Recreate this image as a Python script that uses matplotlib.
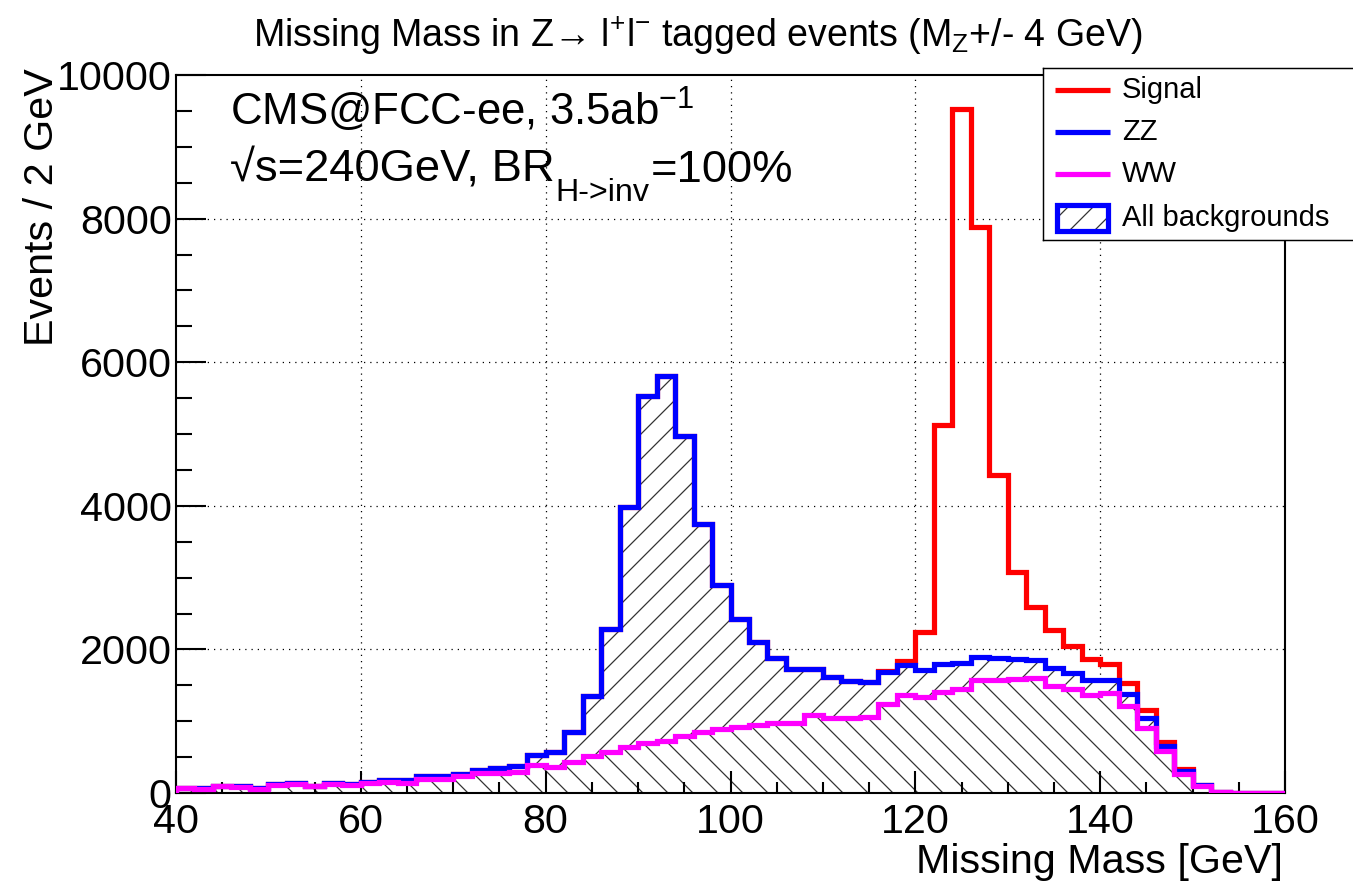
import numpy as np
import matplotlib
matplotlib.use("Agg")
import matplotlib.pyplot as plt
from matplotlib.patches import Rectangle
from matplotlib.ticker import MultipleLocator

# ---------------- data (events per 2 GeV bin, 40..160 GeV) ----------------
bin_edges = list(range(40, 162, 2))

ww = [65, 60, 92, 85, 58, 112, 125, 95, 128, 118,
      144, 150, 140, 199, 190, 231, 278, 284, 296, 385,
      368, 432, 515, 571, 636, 701, 719, 794, 850, 896,
      919, 951, 974, 974, 1090, 1049, 1045, 1060, 1240, 1370,
      1336, 1406, 1452, 1573, 1573, 1592, 1600, 1490, 1443, 1360,
      1397, 1211, 910, 585, 260, 97, 8, 5, 3, 2]

zz = [11, 8, 10, 9, 7, 10, 11, 9, 10, 14,
      16, 35, 36, 37, 41, 33, 41, 63, 74, 145,
      202, 418, 830, 1719, 3341, 4827, 5087, 4178, 2895, 2007,
      1501, 1154, 912, 757, 641, 573, 510, 480, 442, 415,
      382, 394, 358, 319, 305, 273, 250, 252, 225, 210,
      173, 164, 130, 69, 53, 8, 2, 0, 0, 0]

signal = [0, 0, 0, 0, 0, 0, 0, 0, 0, 0,
          0, 0, 0, 0, 0, 0, 0, 0, 0, 0,
          0, 0, 0, 0, 0, 0, 0, 0, 0, 0,
          0, 0, 0, 0, 0, 0, 0, 5, 20, 55,
          519, 3322, 7710, 5993, 2557, 1213, 738, 523, 377, 292,
          223, 159, 112, 62, 16, 6, 2, 0, 0, 0]

legend_labels = ["Signal", "ZZ", "WW", "All backgrounds"]
x_ticks = [40, 60, 80, 100, 120, 140, 160]
y_ticks = [0, 2000, 4000, 6000, 8000, 10000]

# stacked tops
edges = np.array(bin_edges, dtype=float)
ww_top = np.array(ww, dtype=float)
bkg_top = ww_top + np.array(zz, dtype=float)
tot_top = bkg_top + np.array(signal, dtype=float)

# ---------------- style ----------------
plt.rcParams["font.family"] = ["Liberation Sans", "DejaVu Sans"]
plt.rcParams["mathtext.fontset"] = "custom"
plt.rcParams["mathtext.rm"] = "Liberation Sans"
plt.rcParams["mathtext.it"] = "Liberation Sans:italic"
plt.rcParams["mathtext.bf"] = "Liberation Sans:bold"
plt.rcParams["hatch.linewidth"] = 0.6

W, H, DPI = 1353, 884, 150
fig = plt.figure(figsize=(W / DPI, H / DPI), dpi=DPI)
fig.patch.set_facecolor("white")

ax = fig.add_axes([176 / W, 1 - 793 / H, (1285 - 176) / W, (793 - 75) / H])

RED, BLUE, MAG = "#ff0000", "#0000ff", "#ff00ff"
HATCH = "#333333"
LW = 2.5

# hatched fills
ax.stairs(ww_top, edges, baseline=0, fill=True, facecolor="white",
          edgecolor=HATCH, linewidth=0, hatch="\\\\", zorder=1)
ax.stairs(bkg_top, edges, baseline=ww_top, fill=True, facecolor="white",
          edgecolor=HATCH, linewidth=0, hatch="//", zorder=1)

# outlines
ax.stairs(tot_top, edges, color=RED, lw=LW, zorder=3)
ax.stairs(bkg_top, edges, color=BLUE, lw=LW, zorder=4)
ax.stairs(ww_top, edges, color=MAG, lw=LW, zorder=5)

ax.set_xlim(40, 160)
ax.set_ylim(0, 10000)
ax.set_xticks(x_ticks)
ax.set_yticks(y_ticks)
ax.xaxis.set_minor_locator(MultipleLocator(5))
ax.yaxis.set_minor_locator(MultipleLocator(500))

# dotted grid below fills
for xv in x_ticks[1:-1]:
    ax.axvline(xv, color="black", lw=0.6, ls=(0, (1, 4)), zorder=0.5)
for yv in y_ticks[1:-1]:
    ax.axhline(yv, color="black", lw=0.6, ls=(0, (1, 4)), zorder=0.5)

ax.tick_params(which="both", direction="in", top=False, right=False, width=1.0)
ax.tick_params(axis="y", which="major", length=14.4, labelsize=19.8, pad=2)
ax.tick_params(axis="y", which="minor", length=7.7)
ax.tick_params(axis="x", which="major", length=10.6, labelsize=19.8, pad=5)
ax.tick_params(axis="x", which="minor", length=5.3)
for sp in ax.spines.values():
    sp.set_linewidth(1.0)

# ---------------- texts ----------------
fig.text(698 / W, 1 - 47 / H,
         r"Missing Mass in Z→ l$^{+}$l$^{-}$ tagged events (M$_{\mathrm{Z}}$+/- 4 GeV)",
         ha="center", va="baseline", fontsize=18)
fig.text(230 / W, 1 - 126 / H, r"CMS@FCC-ee, 3.5ab$^{-1}$",
         ha="left", va="baseline", fontsize=21)

renderer = fig.canvas.get_renderer()
base_y = 1 - 182 / H
t1 = fig.text(230 / W, base_y, "√s=240GeV, BR", ha="left", va="baseline",
              fontsize=21.8)
bb1 = t1.get_window_extent(renderer)
t2 = fig.text((bb1.x1 + 1) / W, base_y - 19 / H, "H->inv", ha="left",
              va="baseline", fontsize=15.5)
bb2 = t2.get_window_extent(renderer)
fig.text((bb2.x1 + 1) / W, base_y, "=100%", ha="left", va="baseline",
         fontsize=21.8)

fig.text(42 / W, 1 - 68 / H, "Events / 2 GeV", rotation=90,
         ha="center", va="top", fontsize=19.8)
fig.text(1283 / W, 1 - 873 / H, "Missing Mass [GeV]",
         ha="right", va="baseline", fontsize=19.8)

# ---------------- legend ----------------
lx0, ly0, lx1, ly1 = 1043, 68, W, 240
lax = fig.add_axes([lx0 / W, 1 - ly1 / H, (lx1 - lx0) / W, (ly1 - ly0) / H])
lax.set_xlim(lx0, lx1)
lax.set_ylim(ly1, ly0)
lax.set_xticks([])
lax.set_yticks([])
lax.set_facecolor("white")
for name, sp in lax.spines.items():
    sp.set_linewidth(0.7)
    sp.set_color("black")
lax.spines["right"].set_visible(False)

rows_y = [90, 132, 174, 218]
for lab, col, yc in zip(legend_labels[:3], [RED, BLUE, MAG], rows_y[:3]):
    lax.plot([1055, 1110], [yc, yc], color=col, lw=LW, solid_capstyle="butt")
    lax.text(1122, yc, lab, va="center", ha="left", fontsize=14)
yc = rows_y[3]
lax.add_patch(Rectangle((1057, yc - 13), 51, 26, facecolor="white",
                        edgecolor=HATCH, linewidth=0, hatch="//"))
lax.add_patch(Rectangle((1057, yc - 13), 51, 26, facecolor="none",
                        edgecolor=BLUE, linewidth=LW))
lax.text(1122, yc, legend_labels[3], va="center", ha="left", fontsize=14)

fig.savefig("out.png", dpi=DPI, facecolor="white")
